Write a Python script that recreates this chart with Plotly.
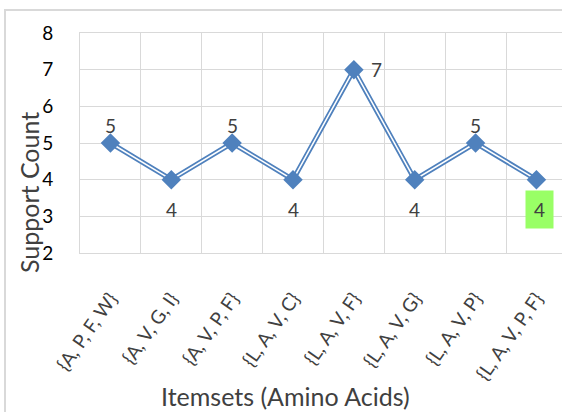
import plotly.graph_objects as go

categories = ["{A, P, F, W}", "{A, V, G, I}", "{A, V, P, F}", "{L, A, V, C}",
              "{L, A, V, F}", "{L, A, V, G}", "{L, A, V, P}", "{L, A, V, P, F}"]
support = [5, 4, 5, 4, 7, 4, 5, 4]
label_pos = ["above", "below", "above", "below", "right", "below", "above", "below"]
highlight = [False, False, False, False, False, False, False, True]

BLUE = "#4F81BD"
GRID = "#D9D9D9"
TXT = "#404040"
FONT = "Lato, Open Sans, sans-serif"

x = list(range(len(categories)))

fig = go.Figure()
fig.add_trace(go.Scatter(x=x, y=support, mode="lines",
                         line=dict(color=BLUE, width=5), hoverinfo="skip"))
fig.add_trace(go.Scatter(x=x, y=support, mode="lines",
                         line=dict(color="white", width=1.5), hoverinfo="skip"))
fig.add_trace(go.Scatter(x=x, y=support, mode="markers",
                         marker=dict(symbol="diamond", size=15, color=BLUE,
                                     line=dict(width=0))))

annotations = []
for xi, v, pos, hl in zip(x, support, label_pos, highlight):
    a = dict(x=xi, y=v, xref="x", yref="y", text=str(v), showarrow=False,
             font=dict(family=FONT, size=19, color=TXT))
    if pos == "above":
        a["yshift"] = 18
    elif pos == "below":
        a["yshift"] = -30
    else:
        a["xshift"] = 23
    if hl:
        a["bgcolor"] = "#99FF66"
        a["width"] = 25
        a["height"] = 35
        a["xshift"] = 3
    annotations.append(a)

# axis titles
annotations.append(dict(text="Support Count", textangle=-90, showarrow=False,
                        xref="paper", yref="paper", x=(29 - 80) / 482, y=(253 - 193) / 220,
                        xanchor="center", yanchor="middle",
                        font=dict(family=FONT, size=25, color=TXT)))
annotations.append(dict(text="Itemsets (Amino Acids)", showarrow=False,
                        xref="paper", yref="paper", x=(285 - 80) / 482, y=(253 - 396) / 220,
                        xanchor="center", yanchor="middle",
                        font=dict(family=FONT, size=25, color=TXT)))

fig.update_layout(
    width=562, height=412,
    margin=dict(l=80, r=0, t=33, b=159),
    paper_bgcolor="white", plot_bgcolor="white",
    showlegend=False,
    annotations=annotations,
    shapes=[dict(type="rect", xref="paper", yref="paper",
                 x0=(5 - 80) / 482, x1=1.2, y0=-1.0, y1=(253 - 10) / 220,
                 line=dict(color=GRID, width=2), layer="below")],
    xaxis=dict(range=[-0.5, 7.42], tickmode="array", tickvals=x, ticktext=categories,
               tickangle=-55, showgrid=False, zeroline=False,
               showline=True, linecolor=GRID, linewidth=1, mirror=True,
               ticks="", ticklabelstandoff=26,
               tickfont=dict(family=FONT, size=19, color=TXT),
               minor=dict(tick0=0.5, dtick=1, showgrid=True, gridcolor=GRID, gridwidth=1)),
    yaxis=dict(range=[2, 8], dtick=1, showgrid=True, gridcolor=GRID, gridwidth=1,
               zeroline=False, showline=True, linecolor=GRID, linewidth=1,
               ticks="", ticklabelstandoff=22,
               tickfont=dict(family=FONT, size=19, color="#000000")),
)

fig.write_html("out.html", config={"displayModeBar": False},
               post_script="document.body.style.margin='0';")
